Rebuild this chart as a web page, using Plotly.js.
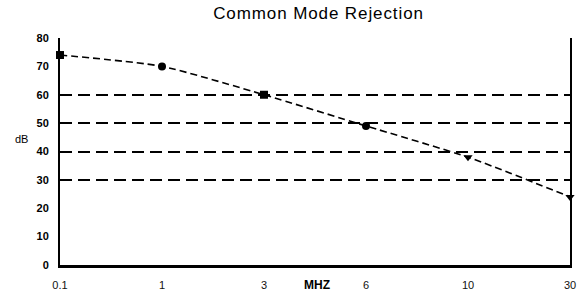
<!DOCTYPE html>
<html><head><meta charset="utf-8">
<script src="https://cdn.plot.ly/plotly-3.0.1.min.js"></script>
<style>html,body{margin:0;padding:0;background:#fff}#chart{width:577px;height:296px}
.gtitle{letter-spacing:0.9px}</style>
</head><body><div id="chart"></div>
<script>
const freqLabels = ['0.1', '1', '3', '6', '10', '30'];
const rejectionDb = [74, 70, 60, 49, 38, 24];
const markerSymbols = ['square', 'circle', 'square', 'circle', 'triangle-down', 'triangle-down'];
const gridLevels = [30, 40, 50, 60];
const yTicks = [0, 10, 20, 30, 40, 50, 60, 70, 80];

const FONT = '"Liberation Sans", Arial, sans-serif';

const traces = [{
  x: freqLabels, y: rejectionDb, yaxis: 'y2', type: 'scatter', mode: 'none',
  showlegend: false, hoverinfo: 'none'
}, {
  x: freqLabels, y: rejectionDb, type: 'scatter', mode: 'lines+markers',
  line: {color: '#000', width: 1.6, dash: '7px,4px', shape: 'spline', smoothing: 0.6},
  marker: {color: '#000', size: 8, symbol: markerSymbols},
  cliponaxis: false, showlegend: false, hoverinfo: 'none'
}];

const layout = {
  width: 577, height: 296,
  margin: {l: 60, r: 7, t: 38, b: 31},
  paper_bgcolor: '#fff', plot_bgcolor: '#fff',
  font: {family: FONT, color: '#000', size: 11},
  title: {text: 'Common Mode Rejection', x: 0.552, xanchor: 'center', y: 0.955, yanchor: 'middle',
          font: {family: FONT, size: 17, color: '#000'}},
  xaxis: {type: 'category', range: [0, 5], showgrid: false, zeroline: false,
          showline: true, linecolor: '#000', linewidth: 2.5, ticks: '',
          ticklabelstandoff: 8,
          tickfont: {family: FONT, size: 11, color: '#111'}},
  yaxis: {range: [0, 80], tickvals: yTicks, showgrid: false, zeroline: false,
          showline: true, mirror: true, linecolor: '#000', linewidth: 2, ticks: '',
          ticklabelstandoff: 7,
          tickfont: {family: FONT, size: 11, color: '#000', weight: 'bold'}},
  yaxis2: {range: [0, 80], overlaying: 'y', tickvals: gridLevels, showticklabels: false,
           showgrid: true, gridcolor: '#000', gridwidth: 2, griddash: '12px,6px',
           zeroline: false, showline: false, ticks: ''},
  annotations: [
    {text: 'dB', xref: 'paper', yref: 'paper', x: -0.075, y: 0.555, xanchor: 'center', yanchor: 'middle',
     showarrow: false, font: {family: FONT, size: 11, color: '#000'}},
    {text: '<b>MHZ</b>', xref: 'paper', yref: 'paper', x: 0.503, y: -0.088, xanchor: 'center', yanchor: 'middle',
     showarrow: false, font: {family: FONT, size: 12, color: '#000'}}
  ]
};

Plotly.newPlot('chart', traces, layout, {staticPlot: true});
</script></body></html>
